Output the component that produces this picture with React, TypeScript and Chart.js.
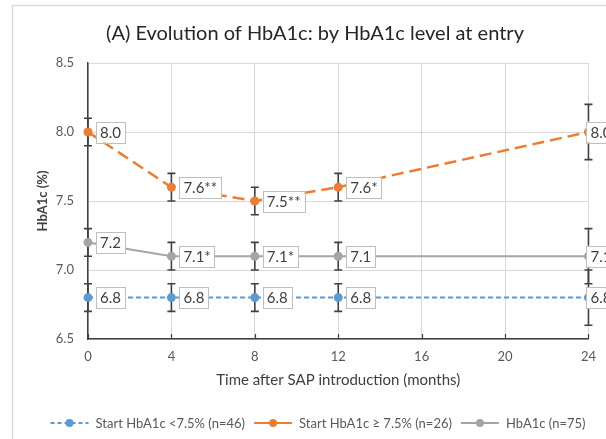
import React, { useEffect, useRef } from 'react';
import { Chart, registerables } from 'chart.js';

Chart.register(...registerables);

const FONT = 'Lato';

const chartTitle = '(A) Evolution of HbA1c: by HbA1c level at entry';
const xTitle = 'Time after SAP introduction (months)';
const yTitle = 'HbA1c (%)';

const months = [0, 4, 8, 12, 24];
const xTicks = [0, 4, 8, 12, 16, 20, 24];
const yTicks = [6.5, 7.0, 7.5, 8.0, 8.5];

const seriesNames = ['Start HbA1c <7.5% (n=46)', 'Start HbA1c \u2265 7.5% (n=26)', 'HbA1c (n=75)'];

const lowStart = [6.8, 6.8, 6.8, 6.8, 6.8];
const lowErr = [0.1, 0.1, 0.1, 0.1, 0.2];
const lowSig = ['', '', '', '', ''];

const highStart = [8.0, 7.6, 7.5, 7.6, 8.0];
const highErr = [0.1, 0.1, 0.1, 0.1, 0.2];
const highSig = ['', '**', '**', '*', ''];

const allPts = [7.2, 7.1, 7.1, 7.1, 7.1];
const allErr = [0.1, 0.1, 0.1, 0.1, 0.2];
const allSig = ['', '*', '*', '', ''];

const colors = ['#5b9bd5', '#ed7d31', '#a5a5a5'];
const dashes = [[5, 3], [12, 6], []];
const legendDashes = [[4, 3], [], []];
const errs = [lowErr, highErr, allErr];
const sigs = [lowSig, highSig, allSig];

const decorPlugin = {
  id: 'decor',
  beforeDraw(chart: any) {
    const { ctx, width, height } = chart;
    ctx.save();
    ctx.fillStyle = '#ffffff';
    ctx.fillRect(0, 0, width, height);
    ctx.strokeStyle = '#d9d9d9';
    ctx.lineWidth = 1.5;
    ctx.beginPath();
    ctx.moveTo(12.5, height);
    ctx.lineTo(12.5, 5.5);
    ctx.lineTo(width, 5.5);
    ctx.stroke();
    ctx.restore();
  },
  beforeDatasetsDraw(chart: any) {
    const { ctx, scales } = chart;
    const xs = scales.x;
    const ys = scales.y;
    ctx.save();
    ctx.strokeStyle = '#404040';
    ctx.lineWidth = 1.2;
    xTicks.forEach((v) => {
      const px = Math.round(xs.getPixelForValue(v)) + 0.5;
      ctx.beginPath();
      ctx.moveTo(px, ys.bottom);
      ctx.lineTo(px, ys.bottom - 5);
      ctx.stroke();
    });
    ctx.strokeStyle = '#404040';
    ctx.lineWidth = 1.6;
    chart.data.datasets.forEach((ds: any, di: number) => {
      ds.data.forEach((pt: any, i: number) => {
        const px = xs.getPixelForValue(pt.x);
        const top = ys.getPixelForValue(pt.y + errs[di][i]);
        const bot = ys.getPixelForValue(pt.y - errs[di][i]);
        ctx.beginPath();
        ctx.moveTo(px, top);
        ctx.lineTo(px, bot);
        ctx.moveTo(px - 4, top);
        ctx.lineTo(px + 4, top);
        ctx.moveTo(px - 4, bot);
        ctx.lineTo(px + 4, bot);
        ctx.stroke();
      });
    });
    ctx.restore();
  },
  afterDatasetsDraw(chart: any) {
    const { ctx, scales } = chart;
    const xs = scales.x;
    const ys = scales.y;
    ctx.save();
    ctx.font = `15px ${FONT}`;
    ctx.textBaseline = 'middle';
    ctx.textAlign = 'left';
    chart.data.datasets.forEach((ds: any, di: number) => {
      ds.data.forEach((pt: any, i: number) => {
        const px = xs.getPixelForValue(pt.x);
        const py = ys.getPixelForValue(pt.y);
        const text = pt.y.toFixed(1) + sigs[di][i];
        const tw = ctx.measureText(text).width;
        const left = i === ds.data.length - 1 ? px - 2 : px + 8;
        const w = tw + 8;
        const h = 21;
        ctx.fillStyle = '#ffffff';
        ctx.fillRect(left, py - h / 2, w, h);
        ctx.strokeStyle = '#bfbfbf';
        ctx.lineWidth = 1;
        ctx.strokeRect(Math.round(left) + 0.5, Math.round(py - h / 2) + 0.5, Math.round(w), h);
        ctx.fillStyle = '#404040';
        ctx.fillText(text, left + 4, py + 1);
      });
    });
    ctx.restore();
  },
  afterDraw(chart: any) {
    const { ctx } = chart;
    ctx.save();
    ctx.fillStyle = '#262626';
    ctx.font = `20px ${FONT}`;
    ctx.textAlign = 'center';
    ctx.textBaseline = 'middle';
    ctx.fillText(chartTitle, 315, 34);
    ctx.font = `13px ${FONT}`;
    ctx.textAlign = 'left';
    const sampleW = 38;
    const gapSample = 7;
    const gapItem = 9;
    const widths = seriesNames.map((n) => ctx.measureText(n).width);
    const total = widths.reduce((a, w) => a + sampleW + gapSample + w, 0) + gapItem * (seriesNames.length - 1);
    let x = 318 - total / 2;
    const y = 423;
    seriesNames.forEach((name, i) => {
      ctx.strokeStyle = colors[i];
      ctx.lineWidth = 2;
      ctx.setLineDash(legendDashes[i]);
      ctx.beginPath();
      ctx.moveTo(x, y);
      ctx.lineTo(x + sampleW, y);
      ctx.stroke();
      ctx.setLineDash([]);
      ctx.fillStyle = colors[i];
      ctx.beginPath();
      ctx.arc(x + sampleW / 2, y, 4, 0, Math.PI * 2);
      ctx.fill();
      ctx.fillStyle = '#595959';
      ctx.fillText(name, x + sampleW + gapSample, y + 1);
      x += sampleW + gapSample + widths[i] + gapItem;
    });
    ctx.restore();
  },
};

function toPoints(vals: number[]) {
  return months.map((m, i) => ({ x: m, y: vals[i] }));
}

export default function App() {
  const ref = useRef<HTMLCanvasElement>(null);
  useEffect(() => {
    const seriesVals = [lowStart, highStart, allPts];
    const chart = new Chart(ref.current as HTMLCanvasElement, {
      type: 'line',
      data: {
        datasets: seriesVals.map((vals, i) => ({
          label: seriesNames[i],
          data: toPoints(vals),
          borderColor: colors[i],
          backgroundColor: colors[i],
          borderWidth: i === 1 ? 2.5 : 2,
          borderDash: dashes[i],
          pointRadius: 4.5,
          pointBackgroundColor: colors[i],
          pointBorderColor: colors[i],
          pointBorderWidth: 0,
          tension: 0,
          clip: false as any,
        })),
      },
      options: {
        responsive: false,
        animation: false,
        devicePixelRatio: 1,
        layout: { padding: { left: 0, top: 63, right: 12, bottom: 0 } },
        plugins: {
          legend: { display: false },
          title: { display: false },
          tooltip: { enabled: false },
        },
        scales: {
          x: {
            type: 'linear',
            min: 0,
            max: 24,
            afterFit: (s: any) => {
              s.height = 100;
            },
            afterBuildTicks: (s: any) => {
              s.ticks = xTicks.map((v) => ({ value: v }));
            },
            ticks: {
              font: { family: FONT, size: 13 },
              color: '#595959',
              padding: 10,
              callback: (v: any) => String(v),
            },
            grid: { color: '#d9d9d9', drawTicks: false, lineWidth: 1 },
            border: { color: '#404040', width: 1.5 },
            title: {
              display: true,
              text: xTitle,
              font: { family: FONT, size: 15 },
              color: '#404040',
              padding: { top: 0, bottom: 50 },
            },
          },
          y: {
            type: 'linear',
            min: 6.5,
            max: 8.5,
            afterFit: (s: any) => {
              s.width = 88;
            },
            afterBuildTicks: (s: any) => {
              s.ticks = yTicks.map((v) => ({ value: v }));
            },
            ticks: {
              font: { family: FONT, size: 13 },
              color: '#595959',
              padding: 14,
              callback: (v: any) => Number(v).toFixed(1),
            },
            grid: { color: '#d9d9d9', drawTicks: false, lineWidth: 1 },
            border: { color: '#404040', width: 1.5 },
            title: {
              display: true,
              text: yTitle,
              font: { family: FONT, size: 13, weight: 'bold' },
              color: '#404040',
              padding: { top: 35, bottom: 0 },
            },
          },
        },
      },
      plugins: [decorPlugin],
    });
    return () => chart.destroy();
  }, []);
  return (
    <div style={{ position: 'fixed', left: 0, top: 0, width: 606, height: 439, background: '#fff' }}>
      <canvas ref={ref} width={606} height={439} style={{ display: 'block' }} />
    </div>
  );
}
